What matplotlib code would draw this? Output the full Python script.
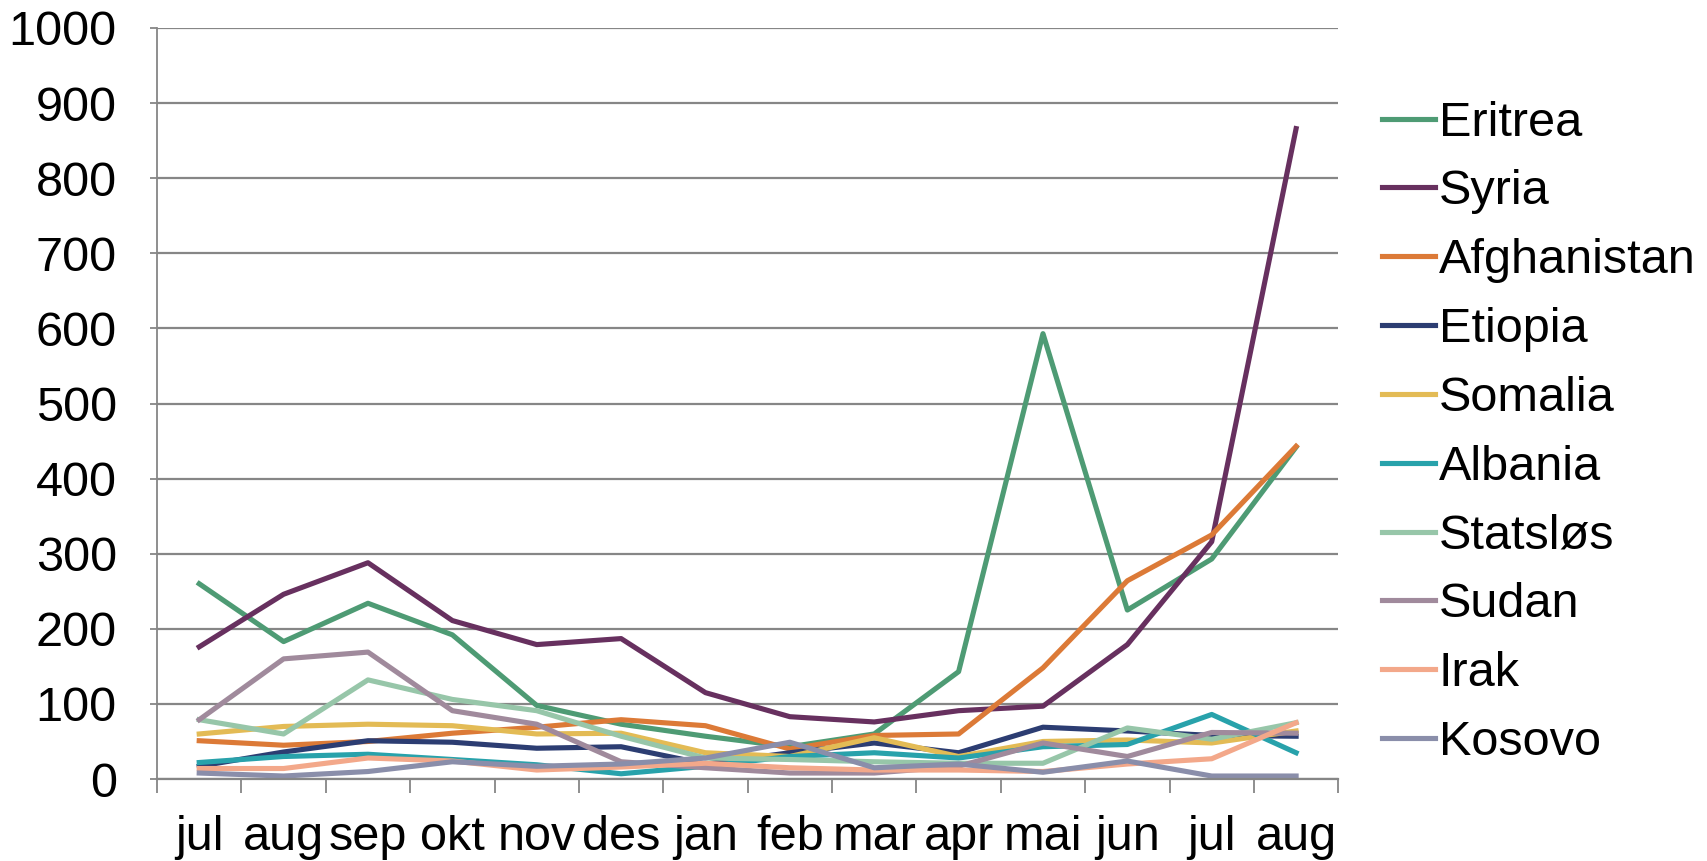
#!/usr/bin/env python3
"""Asylum seekers per month by nationality"""

import matplotlib.pyplot as plt
import numpy as np

months = ['jul', 'aug', 'sep', 'okt', 'nov', 'des', 'jan',
          'feb', 'mar', 'apr', 'mai', 'jun', 'jul', 'aug']

eritrea = [260, 183, 234, 192, 98, 73, 57, 43, 60, 143, 593, 225, 293, 442]
syria = [176, 246, 288, 211, 179, 187, 115, 83, 76, 91, 97, 179, 316, 866]
afghanistan = [51, 45, 50, 61, 69, 79, 71, 40, 58, 60, 148, 264, 325, 443]
etiopia = [17, 36, 51, 49, 41, 43, 20, 35, 48, 35, 69, 64, 58, 57]
somalia = [60, 70, 73, 71, 60, 61, 35, 30, 55, 30, 50, 52, 48, 64]
albania = [22, 30, 33, 26, 19, 7, 17, 30, 35, 28, 43, 46, 86, 35]
statslos = [79, 60, 132, 106, 91, 57, 28, 26, 23, 21, 21, 68, 53, 75]
sudan = [79, 160, 169, 91, 73, 23, 15, 8, 8, 17, 48, 30, 62, 61]
irak = [14, 14, 28, 24, 12, 16, 21, 15, 12, 12, 10, 20, 27, 75]
kosovo = [8, 4, 10, 23, 17, 20, 28, 49, 15, 20, 9, 24, 4, 4]

series = [
    ('Eritrea', eritrea, '#4e9b74'),
    ('Syria', syria, '#67305f'),
    ('Afghanistan', afghanistan, '#dc7a37'),
    ('Etiopia', etiopia, '#2c3d72'),
    ('Somalia', somalia, '#e3bb55'),
    ('Albania', albania, '#28a2ab'),
    ('Statsløs', statslos, '#97c6a9'),
    ('Sudan', sudan, '#a08a9c'),
    ('Irak', irak, '#f3a88a'),
    ('Kosovo', kosovo, '#8a8eaa'),
]

plt.rcParams['font.family'] = ['Liberation Sans', 'DejaVu Sans']

fig = plt.figure(figsize=(17.07, 8.61), dpi=100)
ax = fig.add_axes([0.092, 0.0952, 0.692, 0.8723])

x = np.arange(len(months))
for name, vals, col in series:
    ax.plot(x, vals, color=col, lw=3.7, label=name)

ax.set_xlim(-0.5, len(months) - 0.5)
ax.set_ylim(0, 1000)
ax.set_yticks(np.arange(0, 1001, 100))
ax.set_xticks(x)
ax.set_xticklabels(months)
ax.set_xticks(np.arange(-0.5, len(months)), minor=True)

ax.yaxis.grid(True, color='#868686', lw=1.6)
ax.set_axisbelow(True)
for s in ['top', 'right']:
    ax.spines[s].set_visible(False)
ax.spines['left'].set_color('#868686')
ax.spines['bottom'].set_color('#868686')
ax.spines['left'].set_linewidth(1.3)
ax.spines['bottom'].set_linewidth(1.6)

ax.tick_params(axis='y', labelsize=35, length=5, width=1.3, color='#868686', pad=24)
ax.tick_params(axis='x', which='major', labelsize=35, length=0, pad=26)
ax.tick_params(axis='x', which='minor', length=10, width=1.3, color='#868686')

leg = ax.legend(loc='center left', bbox_to_anchor=(1.012, 0.461), frameon=False,
                fontsize=35, handlelength=1.1, handletextpad=0.08,
                labelspacing=0.49, borderaxespad=0.2)

fig.savefig('out.png', dpi=100)
